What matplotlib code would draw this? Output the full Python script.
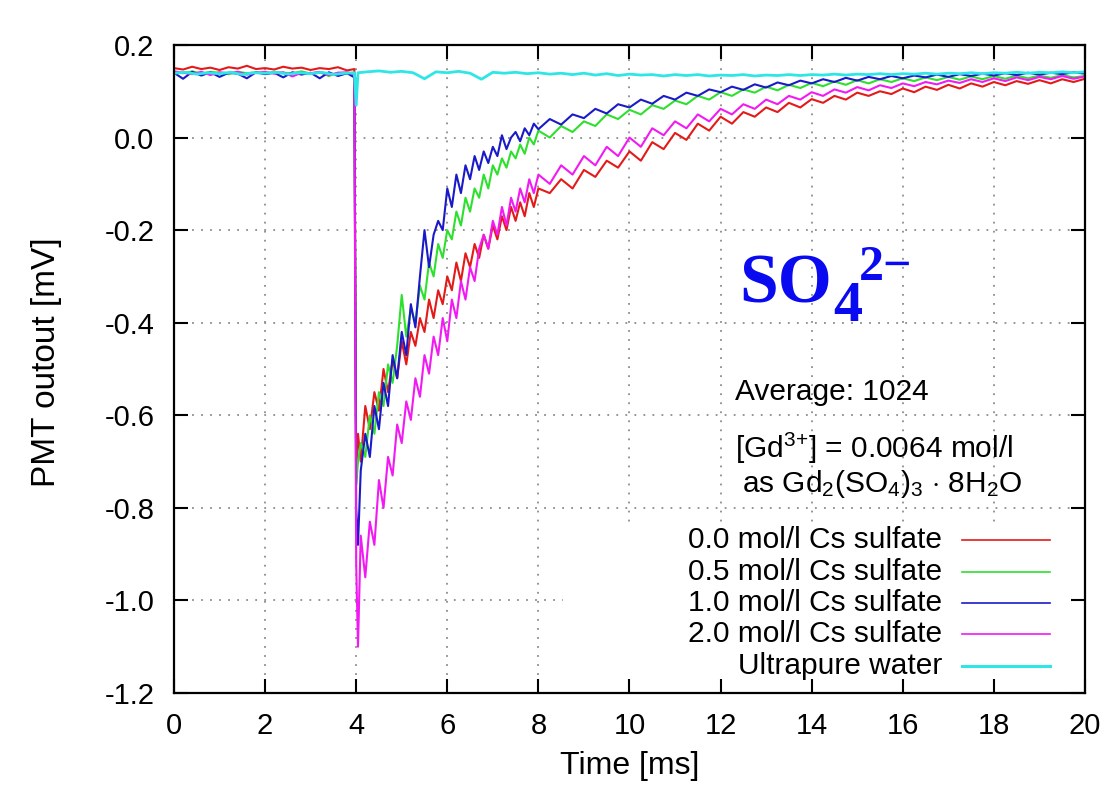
import numpy as np
import matplotlib
matplotlib.use("Agg")
import matplotlib.pyplot as plt
from matplotlib.patches import Rectangle

plt.rcParams['font.family'] = ['Liberation Sans', 'DejaVu Sans']
plt.rcParams['mathtext.fontset'] = 'custom'
plt.rcParams['mathtext.rm'] = 'Liberation Sans'
plt.rcParams['mathtext.it'] = 'Liberation Sans'

# ------------------------------------------------------------
# data (time in ms, PMT output in mV)
# ------------------------------------------------------------

t = [0.0, 0.2, 0.4, 0.6, 0.8, 1.0, 1.2, 1.4, 1.6, 1.8,
     2.0, 2.2, 2.4, 2.6, 2.8, 3.0, 3.2, 3.4, 3.6, 3.8, 3.96,
     4.0, 4.04,
     4.1, 4.2, 4.3, 4.4, 4.5, 4.6, 4.7, 4.8, 4.9, 5.0,
     5.1, 5.2, 5.3, 5.4, 5.5, 5.6, 5.7, 5.8, 5.9, 6.0,
     6.1, 6.2, 6.3, 6.4, 6.5, 6.6, 6.7, 6.8, 6.9, 7.0,
     7.1, 7.2, 7.3, 7.4, 7.5, 7.6, 7.7, 7.8, 7.9, 8.0,
     8.25, 8.5, 8.75, 9.0, 9.25, 9.5, 9.75, 10.0,
     10.25, 10.5, 10.75, 11.0, 11.25, 11.5, 11.75, 12.0,
     12.25, 12.5, 12.75, 13.0, 13.25, 13.5, 13.75, 14.0,
     14.25, 14.5, 14.75, 15.0, 15.25, 15.5, 15.75, 16.0,
     16.25, 16.5, 16.75, 17.0, 17.25, 17.5, 17.75, 18.0,
     18.25, 18.5, 18.75, 19.0, 19.25, 19.5, 19.75, 20.0]

cs_00 = [0.150, 0.147, 0.153, 0.148, 0.151, 0.146, 0.152, 0.149, 0.155, 0.148,
         0.150, 0.147, 0.153, 0.149, 0.151, 0.146, 0.150, 0.148, 0.152, 0.145, 0.148,
         -0.72, -0.64,
         -0.70, -0.58, -0.63, -0.55, -0.59, -0.50, -0.55, -0.48, -0.52, -0.44,
         -0.49, -0.42, -0.45, -0.39, -0.42, -0.35, -0.39, -0.33, -0.36, -0.30,
         -0.33, -0.27, -0.31, -0.25, -0.28, -0.23, -0.26, -0.21, -0.24, -0.19,
         -0.22, -0.17, -0.20, -0.15, -0.18, -0.14, -0.17, -0.12, -0.15, -0.11,
         -0.12, -0.09, -0.11, -0.07, -0.085, -0.05, -0.065, -0.03,
         -0.05, -0.01, -0.025, 0.01, -0.005, 0.03, 0.015, 0.045,
         0.03, 0.055, 0.045, 0.065, 0.055, 0.075, 0.065, 0.083,
         0.075, 0.09, 0.082, 0.097, 0.09, 0.10, 0.094, 0.106,
         0.098, 0.11, 0.103, 0.114, 0.106, 0.117, 0.11, 0.12,
         0.113, 0.122, 0.116, 0.124, 0.117, 0.126, 0.12, 0.127]

cs_05 = [0.141, 0.139, 0.143, 0.138, 0.142, 0.140, 0.137, 0.142, 0.139, 0.141,
         0.138, 0.142, 0.140, 0.139, 0.143, 0.138, 0.141, 0.133, 0.140, 0.138, 0.139,
         -0.75, -0.70,
         -0.66, -0.69, -0.60, -0.64, -0.55, -0.58, -0.49, -0.53, -0.45, -0.34,
         -0.43, -0.37, -0.40, -0.32, -0.35, -0.27, -0.30, -0.23, -0.26, -0.20,
         -0.22, -0.16, -0.19, -0.13, -0.16, -0.11, -0.13, -0.08, -0.11, -0.06,
         -0.08, -0.045, -0.065, -0.03, -0.045, -0.015, -0.035, 0.0, -0.015, 0.015,
         0.0, 0.025, 0.012, 0.035, 0.025, 0.05, 0.04, 0.06,
         0.05, 0.07, 0.062, 0.08, 0.072, 0.09, 0.082, 0.098,
         0.09, 0.104, 0.097, 0.11, 0.102, 0.114, 0.107, 0.118,
         0.111, 0.121, 0.114, 0.124, 0.117, 0.126, 0.12, 0.128,
         0.122, 0.13, 0.124, 0.131, 0.125, 0.132, 0.126, 0.133,
         0.127, 0.134, 0.128, 0.134, 0.129, 0.135, 0.13, 0.133]

cs_10 = [0.140, 0.127, 0.142, 0.134, 0.141, 0.131, 0.140, 0.138, 0.128, 0.141,
         0.137, 0.140, 0.130, 0.141, 0.136, 0.140, 0.128, 0.141, 0.133, 0.139, 0.130,
         -0.80, -0.88,
         -0.72, -0.64, -0.69, -0.58, -0.63, -0.53, -0.58, -0.47, -0.52, -0.42,
         -0.47, -0.36, -0.41, -0.30, -0.20, -0.28, -0.21, -0.18, -0.20, -0.11,
         -0.15, -0.08, -0.12, -0.06, -0.09, -0.04, -0.07, -0.03, -0.055, -0.02,
         -0.04, 0.005, -0.025, 0.0, 0.012, -0.008, 0.02, 0.005, 0.03, 0.018,
         0.04, 0.028, 0.05, 0.042, 0.062, 0.052, 0.072, 0.065,
         0.082, 0.073, 0.09, 0.082, 0.097, 0.09, 0.104, 0.098,
         0.11, 0.103, 0.115, 0.108, 0.119, 0.113, 0.123, 0.117,
         0.126, 0.12, 0.129, 0.123, 0.131, 0.126, 0.133, 0.128,
         0.134, 0.13, 0.136, 0.131, 0.137, 0.133, 0.138, 0.134,
         0.139, 0.135, 0.14, 0.136, 0.14, 0.137, 0.141, 0.138]

cs_20 = [0.143, 0.140, 0.137, 0.142, 0.135, 0.141, 0.139, 0.142, 0.136, 0.140,
         0.142, 0.138, 0.141, 0.132, 0.140, 0.139, 0.142, 0.135, 0.140, 0.141, 0.137,
         -0.92, -1.10,
         -0.86, -0.95, -0.83, -0.88, -0.74, -0.80, -0.69, -0.73, -0.62, -0.66,
         -0.57, -0.61, -0.52, -0.56, -0.47, -0.51, -0.43, -0.47, -0.39, -0.44,
         -0.35, -0.39, -0.31, -0.35, -0.28, -0.31, -0.24, -0.21, -0.24, -0.18,
         -0.21, -0.15, -0.19, -0.13, -0.16, -0.11, -0.14, -0.09, -0.12, -0.08,
         -0.10, -0.06, -0.08, -0.04, -0.06, -0.02, -0.04, 0.0,
         -0.02, 0.02, 0.005, 0.035, 0.02, 0.05, 0.035, 0.062,
         0.05, 0.072, 0.062, 0.082, 0.072, 0.09, 0.082, 0.098,
         0.09, 0.104, 0.097, 0.109, 0.102, 0.113, 0.107, 0.117,
         0.111, 0.12, 0.115, 0.123, 0.118, 0.126, 0.12, 0.128,
         0.122, 0.13, 0.124, 0.131, 0.126, 0.133, 0.127, 0.132]

water_t = [0.0, 0.25, 0.5, 0.75, 1.0, 1.25, 1.5, 1.75, 2.0, 2.25, 2.5, 2.75,
           3.0, 3.25, 3.5, 3.75, 3.96, 4.0, 4.04,
           4.25, 4.5, 4.75, 5.0, 5.25, 5.5, 5.75, 6.0, 6.25, 6.5, 6.75, 7.0,
           7.25, 7.5, 7.75, 8.0, 8.25, 8.5, 8.75, 9.0, 9.25, 9.5, 9.75, 10.0,
           10.25, 10.5, 10.75, 11.0, 11.25, 11.5, 11.75, 12.0,
           12.25, 12.5, 12.75, 13.0, 13.25, 13.5, 13.75, 14.0,
           14.25, 14.5, 14.75, 15.0, 15.25, 15.5, 15.75, 16.0,
           16.25, 16.5, 16.75, 17.0, 17.25, 17.5, 17.75, 18.0,
           18.25, 18.5, 18.75, 19.0, 19.25, 19.5, 19.75, 20.0]

water = [0.139, 0.141, 0.137, 0.140, 0.138, 0.141, 0.136, 0.140, 0.139, 0.141, 0.137, 0.140,
         0.138, 0.141, 0.136, 0.139, 0.140, 0.07, 0.140,
         0.142, 0.144, 0.141, 0.143, 0.140, 0.127, 0.142, 0.140, 0.143, 0.139, 0.126, 0.141,
         0.139, 0.141, 0.138, 0.140, 0.137, 0.139, 0.136, 0.139, 0.135, 0.138, 0.134, 0.137,
         0.135, 0.136, 0.133, 0.136, 0.134, 0.136, 0.133, 0.135,
         0.134, 0.136, 0.133, 0.135, 0.134, 0.136, 0.134, 0.136,
         0.135, 0.137, 0.135, 0.137, 0.136, 0.138, 0.136, 0.138,
         0.137, 0.139, 0.137, 0.139, 0.138, 0.140, 0.138, 0.140,
         0.139, 0.141, 0.139, 0.141, 0.140, 0.142, 0.140, 0.142]

labels = ['0.0 mol/l Cs sulfate', '0.5 mol/l Cs sulfate', '1.0 mol/l Cs sulfate',
          '2.0 mol/l Cs sulfate', 'Ultrapure water']
colours = ['#e41a1a', '#2ee02e', '#1a1ac8', '#f21af2', '#2ee6e6']
widths = [1.5, 1.5, 1.5, 1.5, 2.0]

x_ticks = [0, 2, 4, 6, 8, 10, 12, 14, 16, 18, 20]
y_ticks = [0.2, 0.0, -0.2, -0.4, -0.6, -0.8, -1.0, -1.2]
y_tick_labels = ['0.2', '0.0', '-0.2', '-0.4', '-0.6', '-0.8', '-1.0', '-1.2']

series = [cs_00, cs_05, cs_10, cs_20]
for s in series:
    assert len(s) == len(t), len(s)
assert len(water) == len(water_t)

# ------------------------------------------------------------
# plot
# ------------------------------------------------------------

fig = plt.figure(figsize=(11.06, 7.85), dpi=100)
ax = fig.add_axes([0.1573, 0.1172, 0.8237, 0.8255])

ax.set_xlim(0, 20)
ax.set_ylim(-1.2, 0.2)

# gnuplot style dotted grid
for xv in x_ticks[1:-1]:
    ax.axvline(xv, color='#8c8c8c', lw=1.3, ls=(0, (1, 4)), zorder=1)
for yv in y_ticks[1:-1]:
    ax.axhline(yv, color='#8c8c8c', lw=1.3, ls=(0, (1, 4)), zorder=1)

# opaque key box (hides the grid behind the legend)
ax.add_patch(Rectangle((0.4275, 0.0), 0.5725, 0.262, transform=ax.transAxes,
                       facecolor='white', edgecolor='none', zorder=1.2))

for s, c, w in zip(series, colours[:4], widths[:4]):
    ax.plot(t, s, color=c, lw=w, zorder=2)
ax.plot(water_t, water, color=colours[4], lw=widths[4], zorder=2.1)

ax.set_xticks(x_ticks)
ax.set_xticklabels([str(v) for v in x_ticks])
ax.set_yticks(y_ticks)
ax.set_yticklabels(y_tick_labels)
ax.tick_params(direction='in', length=10, width=1.5, labelsize=21, pad=14,
               top=True, right=True)
for sp in ax.spines.values():
    sp.set_linewidth(1.6)
ax.set_axisbelow(False)

ax.set_xlabel('Time [ms]', fontsize=23)
ax.xaxis.set_label_coords(0.5, -0.090)
ax.set_ylabel('PMT outout [mV]', fontsize=24)
ax.yaxis.set_label_coords(-0.123, 0.51)

# SO4 2- label, built from pieces like the original
serif = ['Liberation Serif', 'DejaVu Serif']
ax.text(0.621, 0.603, 'SO', transform=ax.transAxes, family=serif,
        fontweight='bold', color='#0a0af0', fontsize=50, ha='left', va='baseline')
ax.text(0.7235, 0.574, '4', transform=ax.transAxes, family=serif,
        fontweight='bold', color='#0a0af0', fontsize=42, ha='left', va='baseline')
ax.text(0.752, 0.637, '2\u2212', transform=ax.transAxes, family=serif,
        fontweight='bold', color='#0a0af0', fontsize=36, ha='left', va='baseline')

ax.text(0.616, 0.452, 'Average: 1024', transform=ax.transAxes,
        fontsize=21.5, ha='left', va='baseline')
ax.text(0.616, 0.363, r'[Gd$^{3{+}}$] = 0.0064 mol/l', transform=ax.transAxes,
        fontsize=21.5, ha='left', va='baseline')
ax.text(0.623, 0.310, r'as Gd$_2$(SO$_4$)$_3$ $\cdot$ 8H$_2$O', transform=ax.transAxes,
        fontsize=21.5, ha='left', va='baseline')

# key, gnuplot style: right aligned text followed by line sample
key_y = [0.236, 0.187, 0.139, 0.091, 0.042]
for lab, c, w, yk in zip(labels, colours, widths, key_y):
    ax.text(0.843, yk, lab, transform=ax.transAxes, fontsize=21.5,
            ha='right', va='center', zorder=3)
    ax.plot([0.865, 0.9616], [yk, yk], transform=ax.transAxes, color=c,
            lw=1.2 if w < 2 else 2.2, zorder=3)

fig.savefig('out.png', dpi=100)
